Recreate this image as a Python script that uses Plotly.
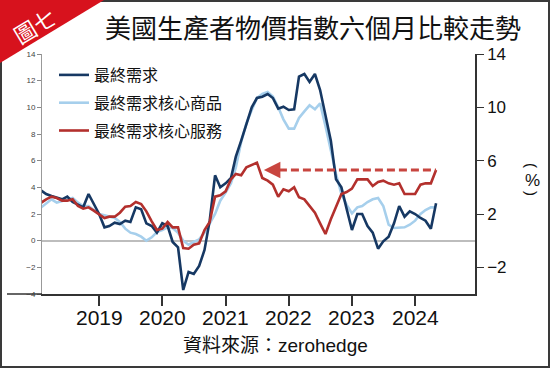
import pandas as pd
import plotly.graph_objects as go

# ---------------- data ----------------
dates = pd.date_range("2018-02-01", "2024-05-01", freq="MS")

final_demand = [3.75, 3.5, 3.35, 3.2, 3.1, 3.3, 2.9, 2.7, 2.5, 3.5, 2.7, 2.0,
                1.0, 1.1, 1.35, 1.25, 1.5, 1.4, 2.5, 2.35, 1.3, 1.1, 0.6, 1.3,
                1.1, -0.1, -0.5, -3.7, -2.35, -2.5, -1.9, -0.7, 1.5, 4.9, 4.0, 4.3,
                4.7, 6.3, 7.5, 8.7, 10.0, 10.7, 10.8, 11.0, 10.7, 9.9, 10.05, 9.8,
                9.85, 12.3, 12.5, 11.9, 12.5, 11.3, 9.5, 7.5, 4.6, 4.0, 2.4, 0.8,
                2.0, 2.0, 1.1, 0.6, -0.6, -0.05, 0.3, 1.3, 2.6, 1.8, 2.2, 2.0,
                1.7, 1.5, 0.9, 2.8]

core_goods = [2.5, 2.8, 3.1, 2.85, 2.95, 3.1, 3.2, 2.85, 2.6, 2.6, 2.3, 2.0,
              1.9, 1.8, 1.7, 1.4, 0.9, 0.6, 0.5, 0.3, 0.0, 0.25, 0.65, 0.8,
              1.0, 0.95, 0.6, 0.0, -0.3, -0.1, 0.1, 0.6, 1.3, 2.0, 3.0, 3.6,
              4.3, 5.5, 7.4, 8.8, 9.8, 10.7, 11.0, 11.15, 10.8, 10.0, 9.1, 8.4,
              8.4, 9.2, 9.7, 10.15, 9.85, 10.3, 8.6, 6.8, 5.0, 3.5, 2.7, 2.05,
              2.5, 2.6, 2.9, 3.1, 3.2, 2.6, 1.2, 0.95, 1.0, 1.0, 1.2, 1.5,
              2.0, 2.3, 2.5, 2.5]

core_services = [2.85, 3.1, 3.3, 3.2, 3.0, 3.0, 3.1, 2.6, 2.4, 2.5, 2.25, 1.95,
                 1.7, 1.8, 1.8, 2.1, 2.55, 2.6, 2.9, 2.75, 2.2, 1.45, 0.8, 0.9,
                 1.4, 1.0, 1.0, -0.55, -0.6, -0.3, -0.2, 0.8, 1.4, 3.3, 3.4, 3.7,
                 4.6, 5.0, 4.9, 5.5, 5.7, 5.85, 4.7, 4.5, 4.2, 3.3, 3.85, 3.7,
                 4.0, 3.25, 3.1, 2.65, 2.1, 1.3, 0.5, 1.6, 2.5, 3.5, 3.65, 3.9,
                 4.6, 4.6, 4.6, 4.1, 4.4, 4.5, 4.3, 4.2, 4.3, 3.5, 3.5, 3.5,
                 4.2, 4.3, 4.3, 5.3]

series_names = ["最終需求", "最終需求核心商品", "最終需求核心服務"]
year_ticks = ["2019-01-01", "2020-01-01", "2021-01-01", "2022-01-01", "2023-01-01", "2024-01-01"]
year_labels = ["2019", "2020", "2021", "2022", "2023", "2024"]
left_ticks = [-4, -2, 0, 2, 4, 6, 8, 10, 12, 14]
right_ticks = [-2, 2, 6, 10, 14]
arrow_head_date = "2021-08-10"
arrow_tail_date = "2021-11-05"

title_text = "美國生產者物價指數六個月比較走勢"
source_text = "資料來源：zerohedge"
badge_text = "圖七"

# ---------------- styling ----------------
W_FIG, H_FIG = 550, 368
L, R, T, B = 42, 475, 54, 294
PW, PH = R - L, B - T


def px(x):
    return (x - L) / PW


def py(y):
    return (B - y) / PH


NAVY = "#163863"
LIGHT = "#a6cfec"
RED = "#b3302d"
FONT = "Arial, Liberation Sans, Noto Sans CJK TC, sans-serif"
CJK = "Noto Sans CJK TC, sans-serif"

fig = go.Figure()
fig.add_trace(go.Scatter(x=dates, y=core_goods, name=series_names[1], mode="lines",
                         line=dict(color=LIGHT, width=2.6), legendrank=2, legendgroup="b"))
fig.add_trace(go.Scatter(x=dates, y=final_demand, name=series_names[0], mode="lines",
                         line=dict(color=NAVY, width=2.6), legendrank=1, legendgroup="a"))
fig.add_trace(go.Scatter(x=dates, y=core_services, name=series_names[2], mode="lines",
                         line=dict(color=RED, width=2.6), legendrank=3, legendgroup="c",
                         yaxis="y2"))

x_range = ["2018-02-05", "2024-12-12"]
y_range = [-4, 14]

fig.update_layout(
    width=W_FIG, height=H_FIG,
    margin=dict(l=L, r=W_FIG - R, t=T, b=H_FIG - B, pad=0),
    paper_bgcolor="white", plot_bgcolor="white",
    font=dict(family=FONT, color="#111"),
    showlegend=True,
    legend=dict(x=px(54), y=py(58), xanchor="left", yanchor="top",
                bgcolor="rgba(0,0,0,0)", font=dict(family=CJK, size=16, color="#111"),
                traceorder="grouped", tracegroupgap=4, itemwidth=30),
    xaxis=dict(range=x_range, type="date", tickvals=year_ticks, showticklabels=False,
               ticks="outside", ticklen=10, tickwidth=1.5, tickcolor="#333",
               showgrid=False, zeroline=False,
               showline=True, linecolor="#333", linewidth=1.5),
    yaxis=dict(range=y_range, tickvals=left_ticks, ticks="outside", ticklen=4,
               tickcolor="#888", tickfont=dict(size=8, color="#444"), showgrid=False,
               zeroline=True, zerolinecolor="#bdbdbd", zerolinewidth=1.5,
               showline=True, linecolor="#999", linewidth=1),
    yaxis2=dict(range=y_range, overlaying="y", side="right", tickvals=right_ticks,
                ticks="outside", ticklen=7, tickcolor="#333", tickwidth=1.2,
                tickfont=dict(size=17, color="#111"), showgrid=False, zeroline=False,
                showline=True, linecolor="#333", linewidth=1.5),
)

shapes = [
    dict(type="line", xref="paper", yref="paper", x0=px(7), x1=0, y0=0, y1=0,
         line=dict(color="#333", width=1.5)),
    dict(type="rect", xref="paper", yref="paper", x0=px(1), x1=px(549), y0=py(1), y1=py(367),
         line=dict(color="#3a3a3a", width=2)),
    dict(type="path", xref="paper", yref="paper", fillcolor="#d7121d", line=dict(width=0),
         path=f"M {px(0)},{py(0)} L {px(104)},{py(0)} L {px(0)},{py(63)} Z"),
    dict(type="line", xref="x", yref="y", x0=arrow_tail_date, x1=dates[-1],
         y0=core_services[-1], y1=core_services[-1],
         line=dict(color="#c8453f", width=3, dash="8px,4px")),
]
fig.update_layout(shapes=shapes)

annotations = [
    dict(text=title_text, xref="paper", yref="paper", x=px(313), y=py(27),
         showarrow=False, font=dict(family=CJK, size=26, color="#111"),
         xanchor="center", yanchor="middle"),
    dict(text=badge_text, xref="paper", yref="paper", x=px(34), y=py(25),
         showarrow=False, textangle=-31, font=dict(family=CJK, size=22, color="white"),
         xanchor="center", yanchor="middle"),
    dict(text=source_text, xref="paper", yref="paper", x=px(275), y=py(345),
         showarrow=False, font=dict(family=FONT, size=19, color="#111"),
         xanchor="center", yanchor="middle"),
    dict(text="(", xref="paper", yref="paper", x=px(532), y=py(165), textangle=90,
         showarrow=False, font=dict(family=FONT, size=15, color="#111"),
         xanchor="center", yanchor="middle"),
    dict(text="%", xref="paper", yref="paper", x=px(532), y=py(180),
         showarrow=False, font=dict(family=FONT, size=17, color="#111"),
         xanchor="center", yanchor="middle"),
    dict(text=")", xref="paper", yref="paper", x=px(532), y=py(193), textangle=90,
         showarrow=False, font=dict(family=FONT, size=15, color="#111"),
         xanchor="center", yanchor="middle"),
    dict(x=arrow_head_date, y=core_services[-1], ax=arrow_tail_date, ay=core_services[-1],
         xref="x", yref="y", axref="x", ayref="y", text="", showarrow=True,
         arrowhead=2, arrowsize=1.1, arrowwidth=3, arrowcolor="#c8453f"),
]
for tv, tl in zip(year_ticks, year_labels):
    annotations.append(dict(text=tl, xref="x", yref="paper", x=tv, y=py(317),
                            showarrow=False, font=dict(family=FONT, size=21, color="#111"),
                            xanchor="center", yanchor="middle"))
fig.update_layout(annotations=annotations)

fig.write_html("out.html", config={"displayModeBar": False},
               post_script="document.body.style.margin='0';")
